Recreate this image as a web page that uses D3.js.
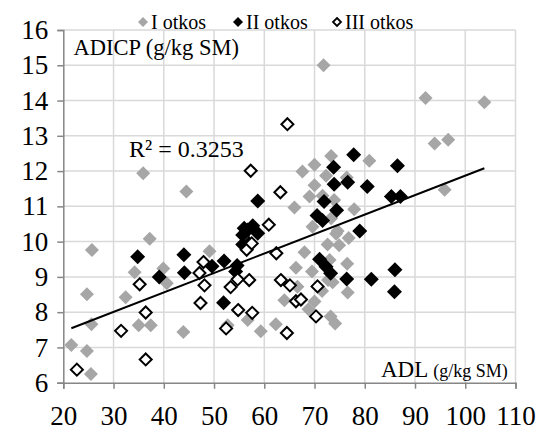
<!DOCTYPE html>
<html><head><meta charset="utf-8">
<script src="https://cdn.jsdelivr.net/npm/d3@7"></script>
<style>body{margin:0;background:#fff}svg{display:block}text{font-family:"Liberation Serif","Times New Roman",serif;fill:#000}</style>
</head><body><svg id="c" width="537" height="436"></svg>
<script>
const seriesNames = ["I otkos", "II otkos", "III otkos"];
const otkos1X = [21.6,24.7,25.5,25.7,24.7,25.6,35.9,44.5,37.2,34.2,32.4,35.0,37.4,39.9,40.6,43.9,49.1,66.0,67.6,69.0,71.8,92.1,93.9,96.6,103.8,95.9,80.9,73.3,70.0,72.3,70.0,76.4,71.6,73.9,77.9,69.6,74.6,73.3,68.0,72.6,74.9,76.8,74.3,76.5,69.5,73.6,76.6,70.0,68.8,73.2,74.1,71.5,73.0,66.3,66.6,64.0,62.3,59.3,56.7,52.7,72.7];
const otkos1Y = [7.07,6.9,6.25,9.76,8.51,7.66,11.94,11.42,10.08,9.13,8.42,7.63,7.63,9.24,8.82,7.44,9.73,10.97,11.99,11.28,15.0,14.07,12.78,12.89,13.95,11.47,12.29,12.43,12.18,11.87,11.6,11.82,11.3,11.18,10.92,10.42,10.3,10.66,9.7,9.92,9.9,10.1,10.22,9.37,9.15,8.85,8.56,8.3,8.08,7.88,7.68,8.6,9.48,9.26,8.72,8.34,7.66,7.46,7.78,7.63,8.91];
const otkos2X = [34.8,39.1,44.0,44.1,49.6,52.0,54.6,54.3,51.9,55.7,58.7,55.7,57.0,58.7,56.0,57.7,56.7,71.0,72.3,73.2,76.4,81.3,86.0,85.9,79.0,70.5,71.6,71.9,74.4,73.9,76.6,80.5,85.3,87.1,77.8,73.8,86.5];
const otkos2Y = [9.57,9.0,9.63,9.12,9.3,9.45,9.32,9.15,8.27,10.19,10.24,9.92,9.95,11.15,10.38,10.45,10.33,9.5,9.29,9.1,8.94,8.93,9.2,8.58,10.3,10.74,10.6,11.14,10.89,11.63,11.68,11.56,11.28,11.28,12.46,12.11,12.15];
const otkos3X = [22.7,36.4,31.5,36.4,35.2,64.6,57.3,63.2,60.9,62.4,47.9,47.1,48.1,47.3,56.5,57.5,53.3,54.7,57.0,54.8,57.6,52.4,63.3,65.1,66.3,67.3,64.5,70.6,70.3];
const otkos3Y = [6.37,6.66,7.47,7.99,8.79,13.33,12.01,11.4,10.48,9.67,9.42,9.11,8.76,8.26,9.77,9.95,8.71,8.93,8.91,8.06,7.98,7.54,8.91,8.76,8.31,8.36,7.41,8.73,7.88];
const xTicks = [20,30,40,50,60,70,80,90,100,110];
const yTicks = [6,7,8,9,10,11,12,13,14,15,16];
const trendX = [21.6, 103.8];
const trendSlope = 0.0552, trendIntercept = 6.35;
const r2Label = "R² = 0.3253";
const yTitle = "ADICP (g/kg SM)";
const xTitleMain = "ADL", xTitleUnit = "(g/kg SM)";

const svg = d3.select("#c");
const L = 63.3, R = 515.5, T = 30, B = 382.7;
const x = d3.scaleLinear().domain([20,110]).range([L,R]);
const y = d3.scaleLinear().domain([6,16]).range([B,T]);

// grid
const g = svg.append("g");
g.selectAll(".gx").data(xTicks.slice(1)).join("line")
  .attr("x1",d=>x(d)).attr("x2",d=>x(d)).attr("y1",T).attr("y2",B)
  .attr("stroke","#d9d9d9").attr("stroke-width",1.5);
g.selectAll(".gy").data(yTicks.slice(1)).join("line")
  .attr("x1",L).attr("x2",R).attr("y1",d=>y(d)).attr("y2",d=>y(d))
  .attr("stroke","#d9d9d9").attr("stroke-width",1.5);

// axes
const xAxis = d3.axisBottom(x).tickValues(xTicks).tickSize(6).tickPadding(17);
const yAxis = d3.axisLeft(y).tickValues(yTicks).tickSize(6).tickPadding(9);
const gx = svg.append("g").attr("transform",`translate(0,${B})`).call(xAxis);
const gy = svg.append("g").attr("transform",`translate(${L},0)`).call(yAxis);
[gx,gy].forEach(a=>{
  a.attr("font-family",null).attr("font-size",null);
  a.selectAll("path,line").attr("stroke","#868686").attr("stroke-width",1.5);
  a.selectAll("text").style("font-family",'"Liberation Serif",serif').style("font-size","27px").attr("fill","#000");
});

const diamond = r => `M0,${-r}L${r},0L0,${r}L${-r},0Z`;
const zip = (xs,ys)=>xs.map((v,i)=>[v,ys[i]]);

svg.append("g").selectAll("path").data(zip(otkos1X,otkos1Y)).join("path")
  .attr("d",diamond(7)).attr("transform",d=>`translate(${x(d[0])},${y(d[1])})`).attr("fill","#a6a6a6");
svg.append("g").selectAll("path").data(zip(otkos2X,otkos2Y)).join("path")
  .attr("d",diamond(7.5)).attr("transform",d=>`translate(${x(d[0])},${y(d[1])})`).attr("fill","#000");
svg.append("g").selectAll("path").data(zip(otkos3X,otkos3Y)).join("path")
  .attr("d",diamond(6)).attr("transform",d=>`translate(${x(d[0])},${y(d[1])})`)
  .attr("fill","#fff").attr("stroke","#000").attr("stroke-width",2);

// trend
svg.append("line")
  .attr("x1",x(trendX[0])).attr("y1",y(trendSlope*trendX[0]+trendIntercept))
  .attr("x2",x(trendX[1])).attr("y2",y(trendSlope*trendX[1]+trendIntercept))
  .attr("stroke","#000").attr("stroke-width",2);

svg.append("text").attr("x",129).attr("y",157).style("font-size","24px").text(r2Label);
svg.append("text").attr("x",73.5).attr("y",55).style("font-size","22.5px").text(yTitle);
const xt = svg.append("text").attr("x",381).attr("y",377);
xt.append("tspan").style("font-size","23px").text(xTitleMain);
xt.append("tspan").style("font-size","18px").attr("dx",5).text(xTitleUnit);

// legend
const leg = [[143,"#a6a6a6",null],[238,"#000",null],[337,"#fff","#000"]];
leg.forEach((l,i)=>{
  svg.append("path").attr("d",diamond(l[2]?4:5)).attr("transform",`translate(${l[0]},22)`)
    .attr("fill",l[1]).attr("stroke",l[2]||"none").attr("stroke-width",l[2]?1.8:0);
  svg.append("text").attr("x",l[0]+8).attr("y",28.5).style("font-size","20px").text(seriesNames[i]);
});
</script></body></html>
